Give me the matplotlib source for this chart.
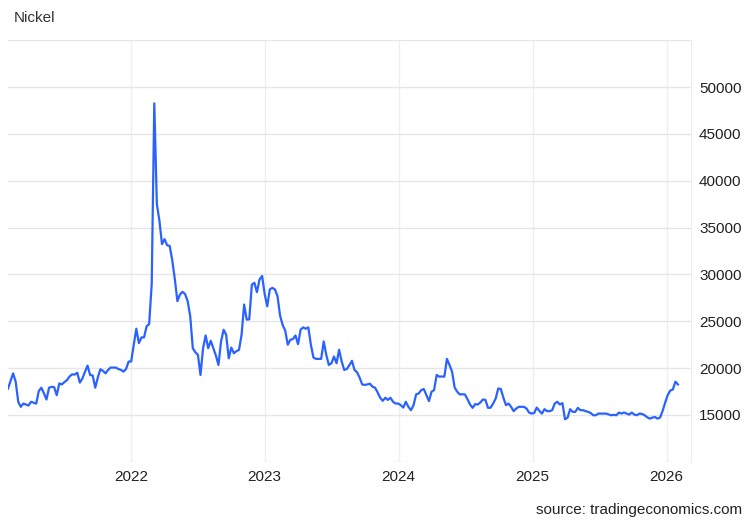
import matplotlib.pyplot as plt
import matplotlib.dates as mdates
import pandas as pd

plt.rcParams["font.family"] = ["Liberation Sans", "DejaVu Sans"]

# weekly nickel price, USD/t
start = "2021-01-31"
prices = [
    17800, 18600, 19430, 18540, 16400, 15860, 16210, 16100, 16000, 16400,
    16300, 16200, 17540, 17900, 17300, 16640, 17900, 18000, 17950, 17100,
    18360, 18250, 18500, 18720, 19100, 19330, 19300, 19500, 18440, 18900,
    19600, 20260, 19260, 19200, 17900, 19000, 19870, 19700, 19430, 19800,
    20050, 20050, 20050, 19900, 19800, 19620, 19900, 20690, 20700, 22490,
    24200, 22660, 23270, 23270, 24450, 24700, 29000, 48260, 37500, 35730,
    33230, 33760, 33110, 33040, 31500, 29500, 27140, 27850, 28140, 27900,
    27140, 25530, 22120, 21690, 21410, 19260, 22120, 23480, 22120, 22910,
    22120, 21330, 20330, 22830, 24090, 23550, 21040, 22190, 21580, 21800,
    21940, 23550, 26780, 25170, 25200, 28900, 29100, 28100, 29470, 29830,
    27900, 26590, 28400, 28560, 28390, 27670, 25600, 24600, 24000, 22490,
    23020, 23100, 23480, 22550, 24100, 24340, 24200, 24340, 22490, 21120,
    20980, 20980, 20980, 22840, 21410, 20330, 20510, 21230, 20510, 21950,
    20690, 19800, 19900, 20300, 20770, 19800, 19540, 18970, 18250, 18200,
    18250, 18330, 18010, 17900, 17400, 16830, 16500, 16830, 16600, 16830,
    16400, 16210, 16210, 16040, 15780, 16400, 15860, 15500, 16040, 17180,
    17290, 17650, 17760, 17120, 16470, 17470, 17650, 19260, 19080, 19100,
    19080, 20980, 20330, 19620, 17930, 17470, 17180, 17200, 17180, 16680,
    16110, 15750, 16150, 16100, 16320, 16640, 16600, 15750, 15770, 16210,
    16750, 17820, 17760, 16830, 16040, 16210, 15860, 15400, 15680, 15860,
    15860, 15860, 15680, 15250, 15140, 15200, 15780, 15430, 15140, 15610,
    15400, 15400, 15500, 16210, 16400, 16110, 16250, 14530, 14700, 15610,
    15320, 15320, 15750, 15500, 15500, 15400, 15320, 15200, 14960, 14960,
    15140, 15140, 15140, 15140, 15050, 14960, 15000, 14960, 15250, 15140,
    15250, 15140, 15030, 15250, 15030, 14960, 15140, 15100, 14960, 14750,
    14600, 14700, 14780, 14600, 14700, 15400, 16300, 17100, 17600, 17700,
    18540, 18250,
]
dates = pd.date_range(start, periods=len(prices), freq="7D")
yticks = list(range(10000, 55001, 5000))

fig = plt.figure(figsize=(7.52, 5.21), dpi=100)
ax = fig.add_axes([0.0106, 0.1138, 0.908, 0.809])

ax.plot(dates, prices, color="#2962ff", linewidth=1.6)

ax.set_xlim(pd.Timestamp(start), pd.Timestamp("2026-03-08"))
ax.set_ylim(10000, 55000)
ax.set_yticks(yticks)
ax.set_yticklabels(["" if v in (10000, 55000) else str(v) for v in yticks])
ax.yaxis.tick_right()
ax.xaxis.set_major_locator(mdates.YearLocator())
ax.xaxis.set_major_formatter(mdates.DateFormatter("%Y"))

ax.grid(axis="y", color="#e6e6e6", linewidth=1)
ax.grid(axis="x", color="#eaf0f7", linewidth=1)
ax.tick_params(length=0, labelsize=11, colors="#222222", pad=6)
for s in ["top", "left", "bottom"]:
    ax.spines[s].set_visible(False)
ax.spines["right"].set_color("#eeeeee")

fig.text(0.0186, 0.965, "Nickel", fontsize=11, color="#333333", va="center")
fig.text(0.987, 0.021, "source: tradingeconomics.com", fontsize=11,
         color="#222222", ha="right", va="center")

fig.savefig("out.png", dpi=100)
